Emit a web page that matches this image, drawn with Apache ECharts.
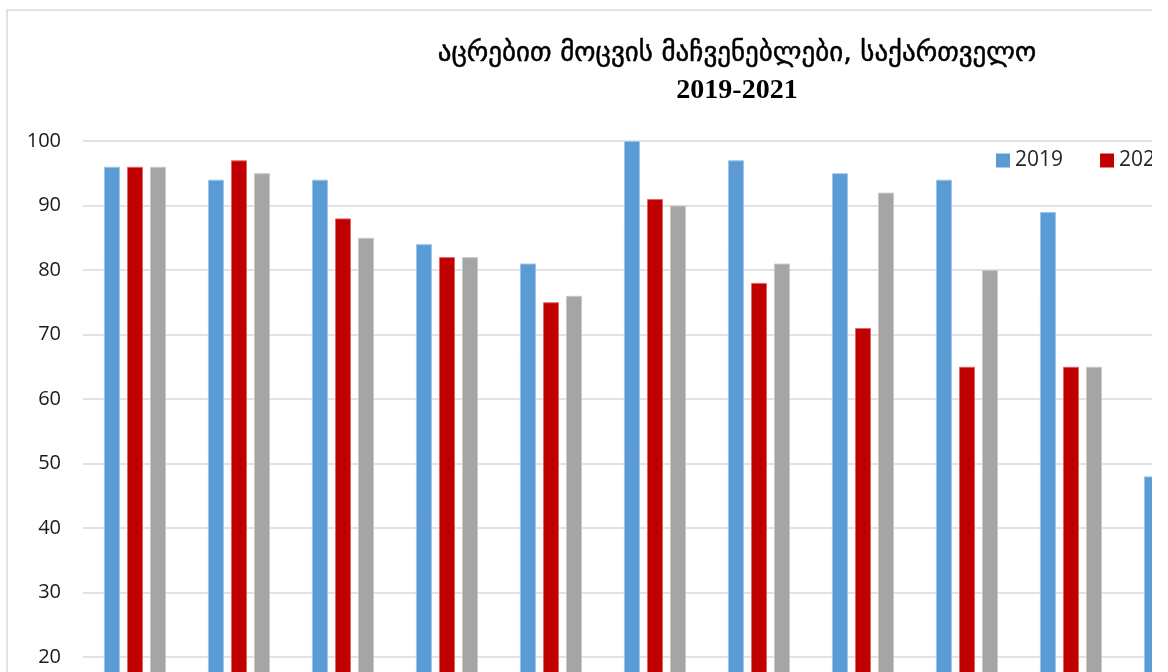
<!DOCTYPE html>
<html>
<head>
<meta charset="utf-8">
<script src="https://cdn.jsdelivr.net/npm/echarts@6/dist/echarts.min.js"></script>
<style>
  html, body { margin: 0; padding: 0; background: #fff; }
  #frame { position: absolute; left: 0; top: 0; width: 1152px; height: 672px; overflow: hidden; background: #fff; }
  #chart { position: absolute; left: 0; top: 0; width: 1474px; height: 900px; }
</style>
</head>
<body>
<div id="frame"><div id="chart"></div></div>
<script>
// Vaccination coverage (%) by indicator, Georgia
const categories = ['BCG', 'HepB-0', 'DTP1', 'DTP3', 'Polio3', 'MMR1', 'DTP4', 'Polio4', 'MMR2', 'DT', 'Td'];
const years = ['2019', '2020', '2021'];
const values2019 = [96, 94, 94, 84, 81, 100, 97, 95, 94, 89, 48];
const values2020 = [96, 97, 88, 82, 75, 91, 78, 71, 65, 65, 42];
const values2021 = [96, 95, 85, 82, 76, 90, 81, 92, 80, 65, 45];
const yTicks = { min: 0, max: 100, interval: 10 };
const titleLine1 = 'აცრებით მოცვის მაჩვენებლები, საქართველო';
const titleLine2 = '2019-2021';

const colors = ['#5B9BD5', '#C00000', '#A5A5A5'];
const edges = ['#9DC3E6', '#E06666', '#C9C9C9'];
const seriesValues = [values2019, values2020, values2021];

const chart = echarts.init(document.getElementById('chart'), null, { renderer: 'canvas' });

chart.setOption({
  animation: false,
  backgroundColor: '#fff',
  title: {
    text: '{geo|' + titleLine1 + '}\n{yr|' + titleLine2 + '}',
    left: 'center',
    top: 30,
    textStyle: {
      align: 'center',
      fontWeight: 'normal',
      rich: {
        geo: {
          fontFamily: 'DejaVu Sans', fontSize: 27, fontWeight: 'normal', color: '#000', lineHeight: 38, align: 'center',
          textBorderColor: '#000', textBorderWidth: 0.5
        },
        yr: { fontFamily: 'Liberation Serif', fontSize: 28, fontWeight: 'bold', color: '#000', lineHeight: 36, align: 'center' }
      }
    }
  },
  graphic: [{
    type: 'rect',
    shape: { x: 7, y: 10, width: 1460, height: 880 },
    style: { fill: 'none', stroke: '#d9d9d9', lineWidth: 1.5 },
    silent: true,
    z: 100
  }],
  legend: {
    left: 996,
    top: 150,
    padding: 0,
    itemWidth: 14,
    itemHeight: 14,
    itemGap: 37,
    icon: 'rect',
    itemStyle: { borderWidth: 0 },
    textStyle: { fontFamily: 'Open Sans', fontSize: 21, color: '#262626' },
    data: years
  },
  grid: { left: 83, top: 141, width: 104 * categories.length, height: 645 },
  xAxis: {
    type: 'category',
    data: categories,
    axisTick: { show: false },
    axisLine: { lineStyle: { color: '#d9d9d9' } },
    axisLabel: { fontFamily: 'Open Sans', fontSize: 20, color: '#262626' }
  },
  yAxis: {
    type: 'value',
    min: yTicks.min,
    max: yTicks.max,
    interval: yTicks.interval,
    axisLine: { show: false },
    axisTick: { show: false },
    axisLabel: { margin: 22, fontFamily: 'Open Sans', fontSize: 20, color: '#1a1a1a' },
    splitLine: { lineStyle: { color: '#d9d9d9', width: 1.5 } }
  },
  series: years.map((y, i) => ({
    name: y,
    type: 'bar',
    data: seriesValues[i],
    barWidth: 16,
    barGap: '44%',
    itemStyle: { color: colors[i], borderColor: edges[i], borderWidth: 1 }
  }))
});
</script>
</body>
</html>
